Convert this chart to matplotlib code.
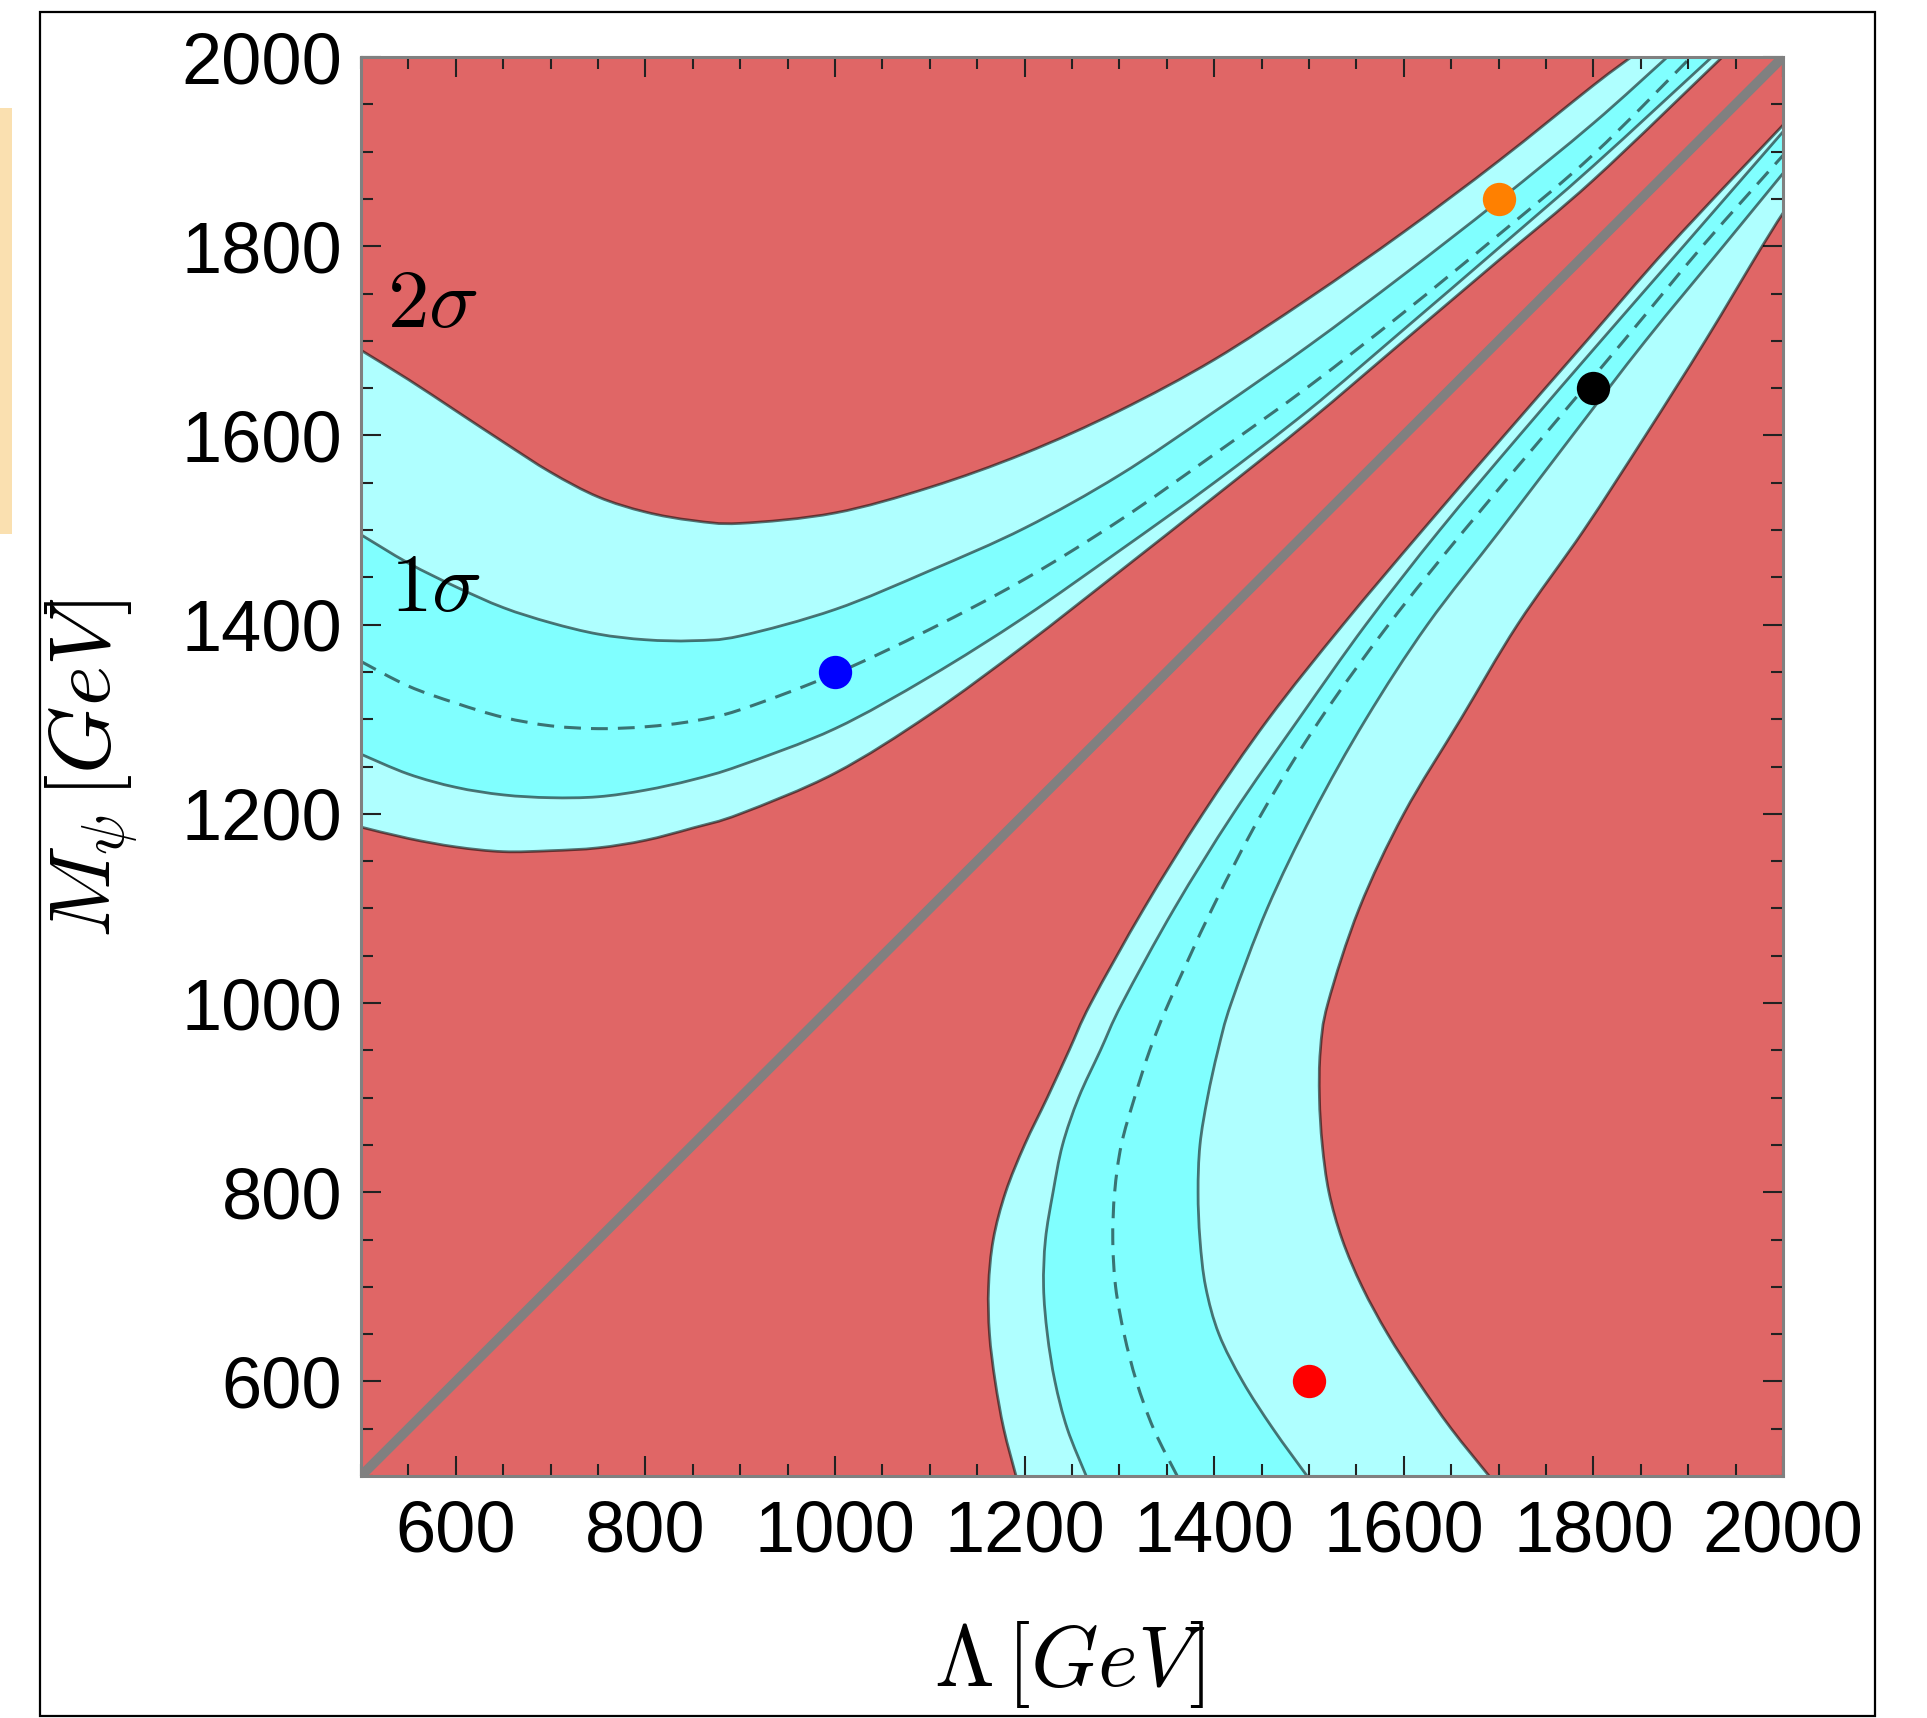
import numpy as np
import matplotlib
matplotlib.use("Agg")
import matplotlib.pyplot as plt
from matplotlib.patches import Rectangle, PathPatch
from matplotlib.path import Path

plt.rcParams['mathtext.fontset'] = 'cm'

# ---- upper band: M_psi read at fixed Lambda values (GeV) ----
up_lam = [500, 550, 600, 650, 700, 750, 800, 850, 900, 1000, 1100, 1200, 1300, 1400, 1500, 1600, 1700, 1800]
up_2s_top = [1690, 1659, 1626, 1593, 1561, 1535, 1519, 1510, 1507, 1518, 1545, 1581, 1626, 1680, 1745, 1815, 1890, 1970]
up_1s_top = [1495, 1465, 1440, 1418, 1402, 1390, 1384, 1383, 1388, 1416, 1457, 1502, 1558, 1625, 1695, 1770, 1848, 1930]
up_mid = [1361, 1335, 1317, 1302, 1293, 1290, 1292, 1298, 1310, 1348, 1395, 1448, 1510, 1580, 1652, 1730, 1812, 1897]
up_1s_bot = [1263, 1242, 1228, 1220, 1217, 1218, 1225, 1236, 1251, 1290, 1345, 1408, 1478, 1550, 1627, 1712, 1798, 1885]
up_2s_bot = [1186, 1174, 1165, 1160, 1161, 1164, 1172, 1185, 1200, 1243, 1305, 1378, 1456, 1535, 1615, 1700, 1785, 1870]
# Lambda where each curve leaves the top edge (M = 2000)
up_exit = [1840, 1878, 1903, 1925, 1936]

# ---- lower band: Lambda read at fixed M_psi values (GeV) ----
lo_m = [500, 550, 600, 650, 700, 750, 800, 850, 900, 950, 1000, 1100, 1200, 1300, 1400, 1500, 1600, 1700, 1800]
lo_2s_left = [1191, 1178, 1169, 1163, 1162, 1167, 1180, 1200, 1224, 1247, 1270, 1326, 1388, 1457, 1536, 1620, 1706, 1793, 1880]
lo_1s_left = [1265, 1245, 1232, 1224, 1220, 1222, 1230, 1240, 1257, 1280, 1303, 1358, 1420, 1489, 1560, 1638, 1722, 1808, 1895]
lo_mid = [1361, 1336, 1318, 1305, 1296, 1293, 1295, 1302, 1316, 1332, 1352, 1398, 1450, 1512, 1584, 1664, 1748, 1832, 1915]
lo_1s_right = [1498, 1462, 1430, 1405, 1391, 1385, 1383, 1385, 1393, 1404, 1418, 1456, 1504, 1560, 1625, 1702, 1778, 1855, 1937]
lo_2s_right = [1690, 1650, 1615, 1583, 1556, 1535, 1521, 1514, 1511, 1512, 1520, 1553, 1600, 1660, 1720, 1790, 1855, 1918, 1978]
# M_psi where each curve leaves the right edge (Lambda = 2000)
lo_exit = [1928, 1921, 1896, 1877, 1835]

# benchmark points
pt_lam = [1000, 1700, 1800, 1500]
pt_m = [1350, 1850, 1650, 600]
pt_col = ['#0000ff', '#ff8000', '#000000', '#ff0000']

red = '#e06666'
light = '#afffff'
dark = '#80ffff'


def upper(vals, k):
    return up_lam + [up_exit[k]], vals + [2000]


def lower(vals, k):
    return vals + [2000], lo_m + [lo_exit[k]]


def smooth(xs, ys):
    # catmull-rom through the read points, as cubic bezier pieces
    p = np.column_stack([xs, ys]).astype(float)
    ext = np.vstack([p[0], p, p[-1]])
    verts = [p[0]]
    for i in range(len(p) - 1):
        p0, p1, p2, p3 = ext[i], ext[i + 1], ext[i + 2], ext[i + 3]
        verts += [p1 + (p2 - p0) / 6, p2 - (p3 - p1) / 6, p2]
    codes = [Path.MOVETO] + [Path.CURVE4] * (3 * (len(p) - 1))
    return verts, codes


fig = plt.figure(figsize=(19.27, 17.18), dpi=100)
ax = fig.add_axes([361 / 1927, 1 - 1476 / 1718, 1422 / 1927, 1419 / 1718])
ax.set_facecolor(red)

up = [upper(v, k) for k, v in enumerate([up_2s_top, up_1s_top, up_mid, up_1s_bot, up_2s_bot])]
lo = [lower(v, k) for k, v in enumerate([lo_2s_left, lo_1s_left, lo_mid, lo_1s_right, lo_2s_right])]

# bands: outer (2 sigma) then inner (1 sigma)
for curves in (up, lo):
    for a, b, c in ((0, 4, light), (1, 3, dark)):
        va, ca = smooth(*curves[a])
        vb, cb = smooth(curves[b][0][::-1], curves[b][1][::-1])
        cb = [Path.LINETO] + cb[1:]
        path = Path(va + vb + [va[0]], ca + cb + [Path.CLOSEPOLY])
        ax.add_patch(PathPatch(path, fc=c, lw=0, zorder=1))

# M_psi = Lambda line
ax.plot([500, 2000], [500, 2000], color='#808080', lw=7, zorder=2, solid_capstyle='butt')

for curves in (up, lo):
    for k in (0, 1, 3, 4):
        v, c = smooth(*curves[k])
        ax.add_patch(PathPatch(Path(v, c), fill=False, ec='black', alpha=0.55, lw=2.0, zorder=3))
    v, c = smooth(*curves[2])
    ax.add_patch(PathPatch(Path(v, c), fill=False, ec='black', alpha=0.55, lw=2.2,
                           ls=(0, (5.5, 3.3)), zorder=3))

for x, y, c in zip(pt_lam, pt_m, pt_col):
    ax.plot(x, y, 'o', color=c, ms=24, mec='none', zorder=4)

ax.text(527, 1715, r'$2\sigma$', fontsize=60, ha='left', va='baseline', zorder=5)
ax.text(531, 1414, r'$1\sigma$', fontsize=60, ha='left', va='baseline', zorder=5)

ax.set_xlim(500, 2000)
ax.set_ylim(500, 2000)
ax.set_xticks(range(600, 2001, 200))
ax.set_yticks(range(600, 2001, 200))
ax.set_xticks(range(500, 2001, 50), minor=True)
ax.set_yticks(range(500, 2001, 50), minor=True)
ax.tick_params(which='both', direction='in', top=True, right=True, color='#222222', width=1.5)
ax.tick_params(which='major', length=14.4)
ax.tick_params(which='minor', length=8.6)
ax.tick_params(axis='y', pad=13.5)
ax.tick_params(axis='x', pad=17)
for lab in ax.get_xticklabels() + ax.get_yticklabels():
    lab.set_fontfamily('Liberation Sans')
    lab.set_fontsize(52)
for s in ax.spines.values():
    s.set_color('#808080')
    s.set_linewidth(2.2)
    s.set_zorder(6)

fig.text(1070 / 1927, 1 - 1665 / 1718, r'$\Lambda\,[GeV]$', fontsize=62, ha='center', va='center')
fig.text(92 / 1927, 1 - 768 / 1718, r'$M_{\psi}\,[GeV]$', fontsize=62, ha='center', va='center',
         rotation=90)

# outer frame and the orange strip at the left edge
fig.add_artist(Rectangle((40 / 1927, 1 - 1716 / 1718), 1835 / 1927, 1704 / 1718,
                         transform=fig.transFigure, fill=False, ec='black', lw=1.6))
fig.add_artist(Rectangle((0, 1 - 534 / 1718), 12 / 1927, 426 / 1718,
                         transform=fig.transFigure, color='#fae0b0', lw=0))

fig.savefig('out.png', dpi=100)
